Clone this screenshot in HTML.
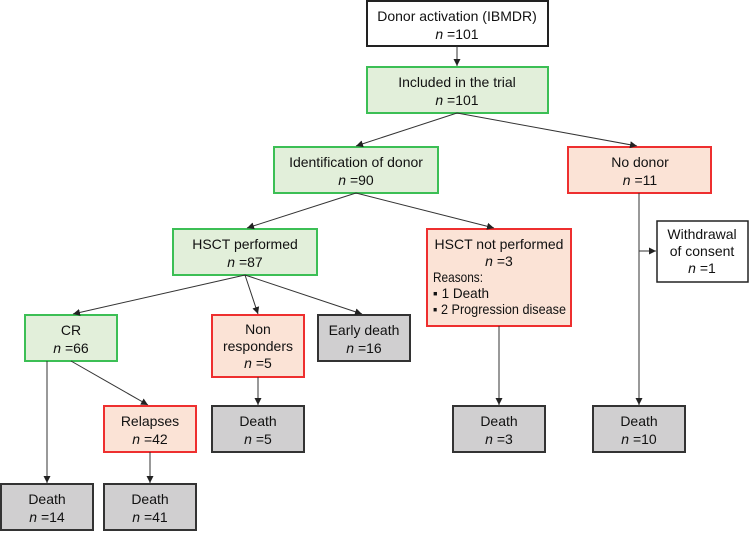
<!DOCTYPE html>
<html><head><meta charset="utf-8"><style>
html,body{margin:0;padding:0;background:#fff}
text{font-family:"Liberation Sans",Arial,sans-serif;font-size:14px;fill:#111}
.g{fill:#e2efda;stroke:#3cbf55;stroke-width:2}
.r{fill:#fbe3d6;stroke:#ee2f2f;stroke-width:2}
.d{fill:#d0cfd0;stroke:#333;stroke-width:2}
.w{fill:#fff;stroke:#222;stroke-width:1.5}
.l{stroke:#333;stroke-width:1;fill:none;marker-end:url(#a)}
</style></head><body>
<svg width="749" height="532" viewBox="0 0 749 532" xmlns="http://www.w3.org/2000/svg">
<defs><marker id="a" markerWidth="8" markerHeight="8" refX="7" refY="4" orient="auto" markerUnits="userSpaceOnUse"><path d="M0,0.5 L7,4 L0,7.5z" fill="#222"/></marker></defs>
<g text-anchor="middle">
<rect class="w" x="367" y="1" width="181" height="45" style="stroke-width:2"/>
<text x="457" y="21">Donor activation (IBMDR)</text><text x="457" y="39"><tspan font-style="italic">n</tspan> =101</text>

<rect class="g" x="367" y="67" width="181" height="46"/>
<text x="457" y="87">Included in the trial</text><text x="457" y="105"><tspan font-style="italic">n</tspan> =101</text>

<rect class="g" x="274" y="147" width="164" height="46"/>
<text x="356" y="167">Identification of donor</text><text x="356" y="185"><tspan font-style="italic">n</tspan> =90</text>

<rect class="r" x="568" y="147" width="143" height="46"/>
<text x="640" y="167">No donor</text><text x="640" y="185"><tspan font-style="italic">n</tspan> =11</text>

<rect class="g" x="173" y="229" width="144" height="46"/>
<text x="245" y="249">HSCT performed</text><text x="245" y="267"><tspan font-style="italic">n</tspan> =87</text>

<rect class="r" x="427" y="229" width="144" height="97"/>
<text x="499" y="249">HSCT not performed</text><text x="499" y="266"><tspan font-style="italic">n</tspan> =3</text>

<rect class="w" x="657" y="221" width="91" height="61"/>
<text x="702" y="239">Withdrawal</text><text x="702" y="256">of consent</text><text x="702" y="273"><tspan font-style="italic">n</tspan> =1</text>

<rect class="g" x="25" y="315" width="92" height="46"/>
<text x="71" y="335">CR</text><text x="71" y="353"><tspan font-style="italic">n</tspan> =66</text>

<rect class="r" x="212" y="315" width="92" height="62"/>
<text x="258" y="334">Non</text><text x="258" y="351">responders</text><text x="258" y="368"><tspan font-style="italic">n</tspan> =5</text>

<rect class="d" x="318" y="315" width="92" height="46"/>
<text x="364" y="335">Early death</text><text x="364" y="353"><tspan font-style="italic">n</tspan> =16</text>

<rect class="r" x="104" y="406" width="92" height="46"/>
<text x="150" y="426">Relapses</text><text x="150" y="444"><tspan font-style="italic">n</tspan> =42</text>

<rect class="d" x="212" y="406" width="92" height="46"/>
<text x="258" y="426">Death</text><text x="258" y="444"><tspan font-style="italic">n</tspan> =5</text>

<rect class="d" x="453" y="406" width="92" height="46"/>
<text x="499" y="426">Death</text><text x="499" y="444"><tspan font-style="italic">n</tspan> =3</text>

<rect class="d" x="593" y="406" width="92" height="46"/>
<text x="639" y="426">Death</text><text x="639" y="444"><tspan font-style="italic">n</tspan> =10</text>

<rect class="d" x="1" y="484" width="92" height="46"/>
<text x="47" y="504">Death</text><text x="47" y="522"><tspan font-style="italic">n</tspan> =14</text>

<rect class="d" x="104" y="484" width="92" height="46"/>
<text x="150" y="504">Death</text><text x="150" y="522"><tspan font-style="italic">n</tspan> =41</text>
</g>
<g style="font-size:12.5px">
<text x="433" y="282" textLength="50" lengthAdjust="spacingAndGlyphs">Reasons:</text>
<text x="433" y="298" textLength="56" lengthAdjust="spacingAndGlyphs">▪ 1 Death</text>
<text x="433" y="314" textLength="133" lengthAdjust="spacingAndGlyphs">▪ 2 Progression disease</text>
</g>
<path class="l" d="M457,46 L457,66"/>
<path class="l" d="M457,113 L356,146"/>
<path class="l" d="M457,113 L637,146"/>
<path class="l" d="M356,193 L247,228"/>
<path class="l" d="M356,193 L494,228"/>
<path class="l" d="M245,275 L73,314"/>
<path class="l" d="M245,275 L258,314"/>
<path class="l" d="M245,275 L362,314"/>
<path class="l" d="M47,361 L47,483"/>
<path class="l" d="M71,361 L148,405"/>
<path class="l" d="M150,452 L150,483"/>
<path class="l" d="M258,377 L258,405"/>
<path class="l" d="M499,326 L499,405"/>
<path class="l" d="M639,193 L639,405"/>
<path class="l" d="M639,251 L656,251"/>
</svg>
</body></html>
